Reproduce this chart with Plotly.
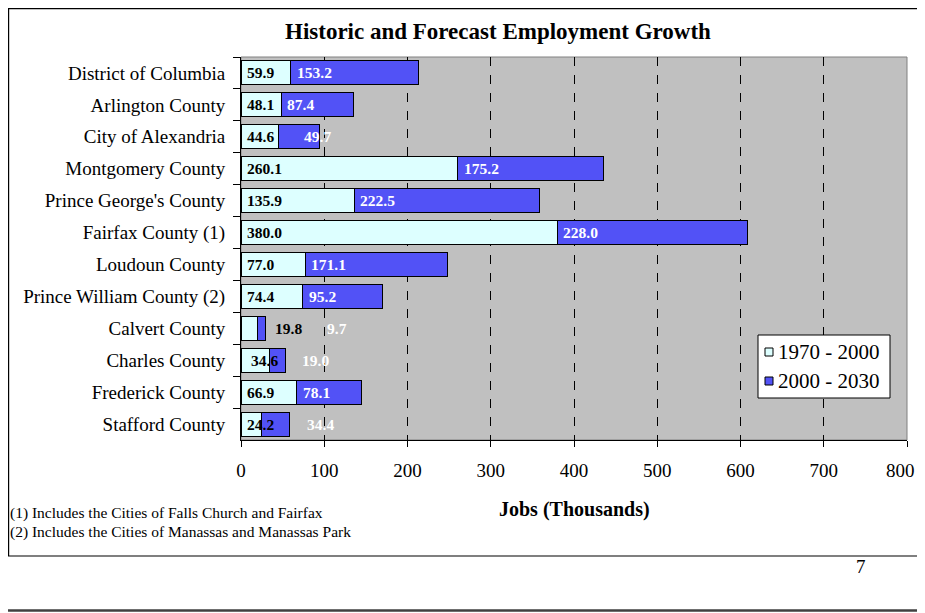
import plotly.graph_objects as go

categories = ["District of Columbia", "Arlington County", "City of Alexandria",
              "Montgomery County", "Prince George's County", "Fairfax County (1)",
              "Loudoun County", "Prince William County (2)", "Calvert County",
              "Charles County", "Frederick County", "Stafford County"]
jobs_1970_2000 = [59.9, 48.1, 44.6, 260.1, 135.9, 380.0, 77.0, 74.4, 19.8, 34.6, 66.9, 24.2]
jobs_2000_2030 = [153.2, 87.4, 49.7, 175.2, 222.5, 228.0, 171.1, 95.2, 9.7, 19.0, 78.1, 34.4]
x_ticks = [0, 100, 200, 300, 400, 500, 600, 700, 800]
series_names = ["1970 - 2000", "2000 - 2030"]
series_colors = ["#DDFFFF", "#5252F6"]

# Label anchors (data units) where the original placed labels away from the segment start
label_override_1 = {"Calvert County": 33.6, "Charles County": 4.8, "Stafford County": 0}
label_override_2 = {"City of Alexandria": 68.5, "Calvert County": 95.5,
                    "Charles County": 66, "Stafford County": 72}

# page body has an 8px margin and the figure fills the body width (925 - 16)
OFF = 8
W, H = 925 - 2 * OFF, 613 - OFF
L, R, T, B = 241, 907, 57, 440   # plot area in page pixels
VIS_R = OFF + W                   # right edge of the visible figure in page pixels

def px(xp):
    return (xp - L) / (R - L)

def py(yp):
    return (B - yp) / (B - T)

FONT = "Liberation Serif"

fig = go.Figure()
for name, vals, col in zip(series_names, [jobs_1970_2000, jobs_2000_2030], series_colors):
    fig.add_trace(go.Bar(
        y=categories, x=vals, orientation="h", name=name,
        marker=dict(color=col, line=dict(color="#000000", width=1)),
        width=0.75, showlegend=False,
    ))

annotations = []
for c, v1, v2 in zip(categories, jobs_1970_2000, jobs_2000_2030):
    x1 = label_override_1.get(c, 0)
    x2 = label_override_2.get(c, v1)
    annotations.append(dict(x=x1, y=c, xref="x", yref="y", text=f"<b>{v1:.1f}</b>",
                            showarrow=False, xanchor="left", xshift=4,
                            font=dict(family=FONT, size=15.5, color="#000000")))
    annotations.append(dict(x=x2, y=c, xref="x", yref="y", text=f"<b>{v2:.1f}</b>",
                            showarrow=False, xanchor="left", xshift=4,
                            font=dict(family=FONT, size=15.5, color="#FFFFFF")))

# tick labels: the last one sits at the very edge of the page, so draw it right-anchored
tick_text = [str(t) for t in x_ticks]
annotations.append(dict(x=x_ticks[-1], y=py(470), xref="x", yref="paper", showarrow=False,
                        text=tick_text[-1], xanchor="right", yanchor="middle",
                        xshift=VIS_R - R, font=dict(family=FONT, size=19, color="#000000")))
axis_tick_text = tick_text[:-1] + [""]

annotations += [
    dict(x=px(498), y=py(31), xref="paper", yref="paper", showarrow=False,
         text="<b>Historic and Forecast Employment Growth</b>",
         font=dict(family=FONT, size=23, color="#000000"), xanchor="center", yanchor="middle"),
    dict(x=px(574), y=py(509), xref="paper", yref="paper", showarrow=False,
         text="<b>Jobs (Thousands)</b>",
         font=dict(family=FONT, size=20, color="#000000"), xanchor="center", yanchor="middle"),
    dict(x=px(8), y=py(513), xref="paper", yref="paper", showarrow=False,
         text="(1) Includes the Cities of Falls Church and Fairfax",
         font=dict(family=FONT, size=15.5, color="#000000"), xanchor="left", yanchor="middle"),
    dict(x=px(8), y=py(532), xref="paper", yref="paper", showarrow=False,
         text="(2) Includes the Cities of Manassas and Manassas Park",
         font=dict(family=FONT, size=15.5, color="#000000"), xanchor="left", yanchor="middle"),
    dict(x=px(861), y=py(566), xref="paper", yref="paper", showarrow=False,
         text="7", font=dict(family=FONT, size=19, color="#000000"),
         xanchor="center", yanchor="middle"),
]

shapes = [
    # outer frame
    dict(type="rect", xref="paper", yref="paper", x0=px(8.6), x1=px(940), y0=py(8.6), y1=py(556),
         line=dict(color="#000000", width=1.2), layer="below"),
    # bottom page line
    dict(type="line", xref="paper", yref="paper", x0=px(0), x1=px(930), y0=py(610.5), y1=py(610.5),
         line=dict(color="#404040", width=2.5)),
    # plot area border (top/right)
    dict(type="rect", xref="paper", yref="paper", x0=0, x1=1, y0=0, y1=1,
         line=dict(color="#808080", width=1), layer="below"),
]

# legend box (drawn with the series colours/names)
LX0, LX1, LY0, LY1 = 758, 890, 335, 398
shapes.append(dict(type="rect", xref="paper", yref="paper", x0=px(LX0), x1=px(LX1),
                   y0=py(LY0), y1=py(LY1), line=dict(color="#000000", width=1),
                   fillcolor="#FFFFFF", layer="above"))
for i, (name, col) in enumerate(zip(series_names, series_colors)):
    cy = 352 + 29 * i
    shapes.append(dict(type="rect", xref="paper", yref="paper", x0=px(765), x1=px(773),
                       y0=py(cy - 4), y1=py(cy + 4), fillcolor=col,
                       line=dict(color="#000000", width=1), layer="above"))
    annotations.append(dict(x=px(776), y=py(cy), xref="paper", yref="paper", showarrow=False,
                            text=name, xanchor="left", yanchor="middle",
                            font=dict(family=FONT, size=21, color="#000000")))

fig.update_layout(
    width=W, height=H,
    margin=dict(l=L - OFF, r=VIS_R - R, t=T - OFF, b=613 - B, pad=0),
    paper_bgcolor="#FFFFFF", plot_bgcolor="#C0C0C0",
    barmode="stack", bargap=0.25,
    showlegend=False,
    annotations=annotations, shapes=shapes,
    font=dict(family=FONT, color="#000000"),
)
fig.update_xaxes(range=[0, 800], tickvals=x_ticks, ticktext=axis_tick_text,
                 showgrid=True, gridcolor="#000000", griddash="dash", gridwidth=1,
                 showline=True, linecolor="#000000", linewidth=1,
                 ticks="outside", ticklen=6, tickcolor="#000000",
                 ticklabelstandoff=7, tickfont=dict(family=FONT, size=19),
                 zeroline=False, fixedrange=True)
fig.update_yaxes(autorange="reversed", showline=True, linecolor="#000000", linewidth=1,
                 ticks="outside", ticklen=7, tickcolor="#000000", tickson="boundaries",
                 ticklabelstandoff=11,
                 tickfont=dict(family=FONT, size=19), showgrid=False, fixedrange=True)

fig.write_html("out.html")
